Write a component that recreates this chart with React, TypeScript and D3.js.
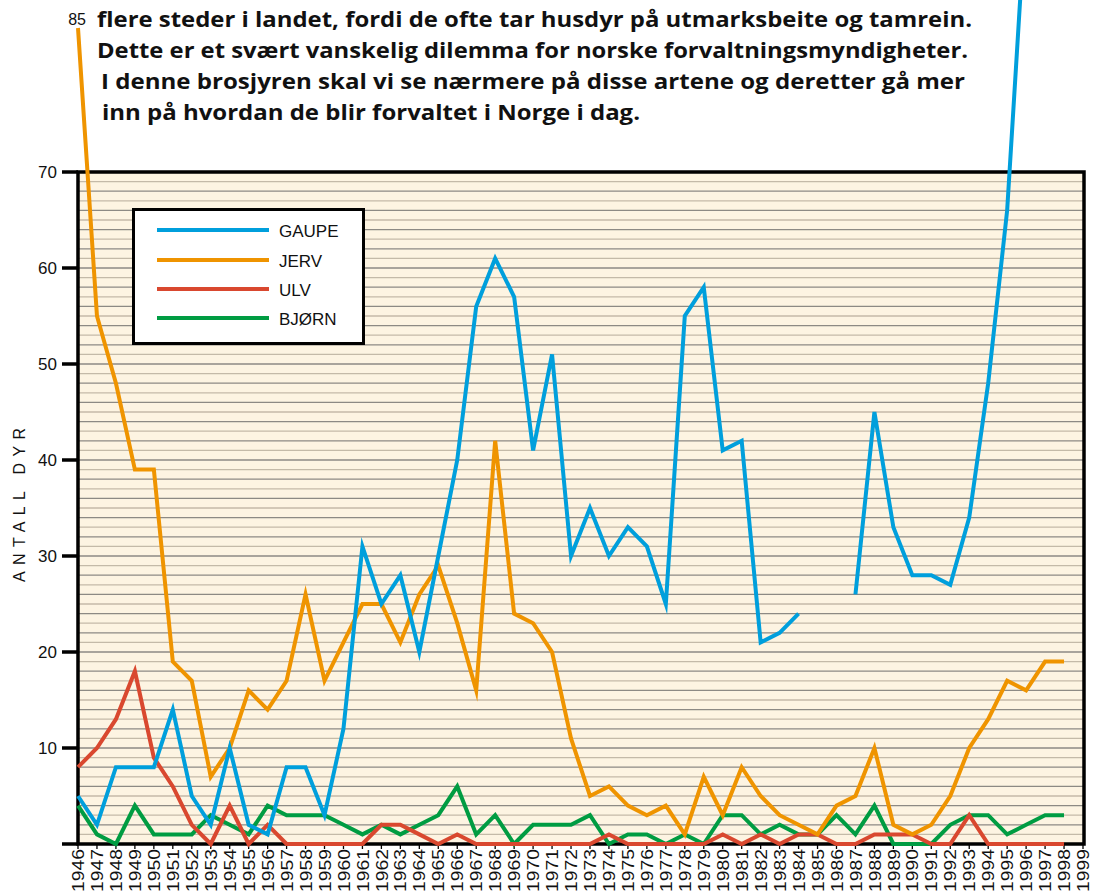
import React from "react";
import * as d3 from "d3";

const years = [
  1946, 1947, 1948, 1949, 1950, 1951, 1952, 1953, 1954, 1955, 1956, 1957, 1958,
  1959, 1960, 1961, 1962, 1963, 1964, 1965, 1966, 1967, 1968, 1969, 1970, 1971,
  1972, 1973, 1974, 1975, 1976, 1977, 1978, 1979, 1980, 1981, 1982, 1983, 1984,
  1985, 1986, 1987, 1988, 1989, 1990, 1991, 1992, 1993, 1994, 1995, 1996, 1997,
  1998,
];
const tickYears = [...years, 1999];

const gaupe: (number | null)[] = [
  5, 2, 8, 8, 8, 14, 5, 2, 10, 2, 1, 8, 8, 3, 12, 31, 25, 28, 20, 30, 40, 56, 61,
  57, 41, 51, 30, 35, 30, 33, 31, 25, 55, 58, 41, 42, 21, 22, 24, null, null, 26,
  45, 33, 28, 28, 27, 34, 48, 66, 98, null, null,
];
const jerv: (number | null)[] = [
  85, 55, 48, 39, 39, 19, 17, 7, 10, 16, 14, 17, 26, 17, 21, 25, 25, 21, 26, 29,
  23, 16, 42, 24, 23, 20, 11, 5, 6, 4, 3, 4, 1, 7, 3, 8, 5, 3, 2, 1, 4, 5, 10, 2,
  1, 2, 5, 10, 13, 17, 16, 19, 19,
];
const ulv: (number | null)[] = [
  8, 10, 13, 18, 9, 6, 2, 0, 4, 0, 2, 0, 0, 0, 0, 0, 2, 2, 1, 0, 1, 0, 0, 0, 0, 0,
  0, 0, 1, 0, 0, 0, 0, 0, 1, 0, 1, 0, 1, 1, 0, 0, 1, 1, 1, 0, 0, 3, 0, 0, 0, 0, 0,
];
const bjorn: (number | null)[] = [
  4, 1, 0, 4, 1, 1, 1, 3, 2, 1, 4, 3, 3, 3, 2, 1, 2, 1, 2, 3, 6, 1, 3, 0, 2, 2, 2,
  3, 0, 1, 1, 0, 1, 0, 3, 3, 1, 2, 1, 1, 3, 1, 4, 0, 0, 0, 2, 3, 3, 1, 2, 3, 3,
];

const yTicks = [0, 10, 20, 30, 40, 50, 60, 70];

const seriesNames = ["GAUPE", "JERV", "ULV", "BJØRN"];
const seriesColors = ["#009fdc", "#ef9400", "#d9482f", "#009c42"];
const seriesData = [gaupe, jerv, ulv, bjorn];

const introLines = [
  "flere steder i landet, fordi de ofte tar husdyr på utmarksbeite og tamrein.",
  "Dette er et svært vanskelig dilemma for norske forvaltningsmyndigheter.",
  "I denne brosjyren skal vi se nærmere på disse artene og deretter gå mer",
  "inn på hvordan de blir forvaltet i Norge i dag.",
];
const introX = [97, 97, 101, 102];
const introY = [27, 58, 89, 120];
const introW = [875, 871, 864, 538];

export default function App() {
  const W = 1097;
  const H = 891;
  const left = 78;
  const right = 1084;
  const top = 172;
  const bottom = 844;

  const x = d3.scaleLinear().domain([1946, 1999]).range([left, 1083]);
  const y = d3.scaleLinear().domain([0, 70]).range([bottom, top]);

  const line = d3
    .line<number | null>()
    .defined((d) => d !== null)
    .x((_, i) => x(years[i]))
    .y((d) => y(d as number));

  const grid = d3.range(1, 70);
  const axisFont = "'Liberation Sans', Arial, Helvetica, sans-serif";

  return (
    <svg
      width={W}
      height={H}
      style={{ position: "absolute", left: 0, top: 0, background: "#fff" }}
    >
      {/* intro text */}
      {introLines.map((t, i) => (
        <text
          key={i}
          x={introX[i]}
          y={introY[i]}
          textLength={introW[i]}
          lengthAdjust="spacingAndGlyphs"
          fontFamily="'Open Sans', 'Noto Sans', sans-serif"
          fontWeight={700}
          fontSize={21.5}
          fill="#111"
        >
          {t}
        </text>
      ))}

      {/* plot background */}
      <rect x={left} y={top} width={right - left} height={bottom - top} fill="#fdf4e2" />
      {grid.map((v) => (
        <line
          key={v}
          x1={left}
          x2={right}
          y1={y(v)}
          y2={y(v)}
          stroke={v % 2 === 0 ? "#8d8a84" : "#c4baa8"}
          strokeWidth={1.3}
        />
      ))}

      {/* frame */}
      <rect
        x={left}
        y={top}
        width={right - left}
        height={bottom - top}
        fill="none"
        stroke="#000"
        strokeWidth={3.5}
      />

      {/* y ticks */}
      {yTicks.map((v) => (
        <g key={v}>
          <line x1={62} x2={left} y1={y(v)} y2={y(v)} stroke="#000" strokeWidth={3.5} />
          {v > 0 && (
            <text
              x={57}
              y={y(v)}
              dy="0.36em"
              textAnchor="end"
              fontFamily={axisFont}
              fontSize={17}
              fill="#111"
            >
              {v}
            </text>
          )}
        </g>
      ))}

      {/* y label */}
      <text
        transform="translate(25,505) rotate(-90)"
        textAnchor="middle"
        fontFamily={axisFont}
        fontSize={16}
        textLength={154}
        lengthAdjust="spacing"
        fill="#111"
      >
        ANTALL DYR
      </text>

      {/* x ticks */}
      {tickYears.map((yr) => (
        <g key={yr}>
          <line x1={x(yr)} x2={x(yr)} y1={bottom} y2={bottom + 5} stroke="#000" strokeWidth={1.3} />
          <text
            transform={`translate(${x(yr)},849) rotate(-90)`}
            textAnchor="end"
            dy="0.36em"
            fontFamily={axisFont}
            fontSize={17}
            textLength={43}
            lengthAdjust="spacingAndGlyphs"
            fill="#111"
          >
            {yr}
          </text>
        </g>
      ))}

      {/* legend */}
      <rect x={133.5} y={209.5} width={230} height={134} fill="#fff" stroke="#000" strokeWidth={3} />
      {seriesNames.map((n, i) => {
        const ly = [230, 260, 289, 318][i];
        return (
          <g key={n}>
            <line x1={157} x2={269} y1={ly} y2={ly} stroke={seriesColors[i]} strokeWidth={4} />
            <text
              x={279}
              y={ly + 1}
              dy="0.35em"
              fontFamily={axisFont}
              fontSize={17}
              fill="#111"
            >
              {n}
            </text>
          </g>
        );
      })}

      {/* data lines */}
      {[3, 2, 1, 0].map((i) => (
        <path
          key={i}
          d={line(seriesData[i]) || ""}
          fill="none"
          stroke={seriesColors[i]}
          strokeWidth={4}
          strokeLinejoin="miter"
          strokeMiterlimit={6}
        />
      ))}

      {/* 85 label for JERV 1946 */}
      <text x={86} y={25} textAnchor="end" fontFamily={axisFont} fontSize={16} fill="#111">
        85
      </text>
    </svg>
  );
}
